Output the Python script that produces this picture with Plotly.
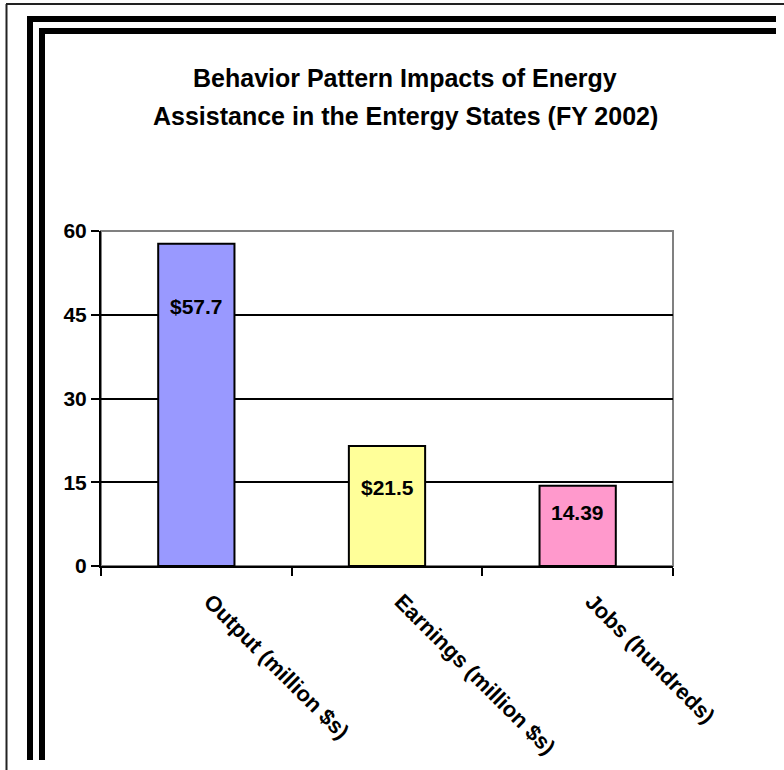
import plotly.graph_objects as go

categories = ["Output (million $s)", "Earnings (million $s)", "Jobs (hundreds)"]
values = [57.7, 21.5, 14.39]
value_labels = ["$57.7", "$21.5", "14.39"]
bar_colors = ["#9999FF", "#FFFF99", "#FF99CC"]
y_ticks = [0, 15, 30, 45, 60]
title_lines = ["Behavior Pattern Impacts of Energy", "Assistance in the Entergy States (FY 2002)"]

W, H = 784, 770
L, R, T, B = 101, 673, 231, 566
FONT = "Liberation Sans, Arial, sans-serif"

def px_x(x):
    return (x - L) / (R - L)

def px_y(y):
    return (B - y) / (B - T)

fig = go.Figure()
fig.add_trace(go.Bar(
    x=categories, y=values, width=0.4,
    marker=dict(color=bar_colors, line=dict(color="black", width=2)),
    hoverinfo="skip",
))

label_shift = [-63, -42, -27]
annotations = []
for c, v, t, s in zip(categories, values, value_labels, label_shift):
    annotations.append(dict(x=c, y=v, xref="x", yref="y", text=f"<b>{t}</b>", showarrow=False,
                            yshift=s, font=dict(family=FONT, size=21, color="black")))
for line, ypx in zip(title_lines, [78, 116]):
    annotations.append(dict(x=px_x(405), y=px_y(ypx), xref="paper", yref="paper",
                            xanchor="center", yanchor="middle",
                            text=f"<b>{line}</b>", showarrow=False,
                            font=dict(family=FONT, size=25, color="black")))

shapes = []
shapes.append(dict(type="rect", xref="paper", yref="paper", x0=0, x1=1, y0=0, y1=1,
                   line=dict(color="#808080", width=2), layer="below"))
shapes.append(dict(type="line", xref="paper", yref="paper", x0=px_x(6), x1=px_x(784), y0=px_y(4), y1=px_y(4),
                   line=dict(color="#222222", width=2)))
shapes.append(dict(type="line", xref="paper", yref="paper", x0=px_x(6.5), x1=px_x(6.5), y0=px_y(4), y1=px_y(770),
                   line=dict(color="#222222", width=2)))
for (x0, x1, y0, y1) in [(27, 33, 16, 760), (39, 45, 28, 760), (27, 776, 16, 22), (39, 776, 28, 34)]:
    shapes.append(dict(type="rect", xref="paper", yref="paper", x0=px_x(x0), x1=px_x(x1),
                       y0=px_y(y0), y1=px_y(y1), fillcolor="black", line=dict(width=0)))

fig.update_layout(
    width=W, height=H, autosize=False,
    margin=dict(l=L, r=W - R, t=T, b=H - B, pad=0, autoexpand=False),
    paper_bgcolor="white", plot_bgcolor="white",
    showlegend=False,
    annotations=annotations, shapes=shapes,
)
fig.update_yaxes(range=[0, 60], tickvals=y_ticks, ticktext=[f"<b>{v}</b>" for v in y_ticks],
                 showgrid=True, gridcolor="black", gridwidth=1.5, automargin=False,
                 showline=True, linecolor="black", linewidth=2,
                 ticks="outside", ticklen=8, tickwidth=2, tickcolor="black",
                 tickfont=dict(family=FONT, size=21, color="black"), zeroline=False, fixedrange=True)
fig.update_xaxes(tickvals=categories, ticktext=[f"<b>{c}</b>" for c in categories],
                 tickangle=45, tickson="boundaries", automargin=False,
                 ticklabelstandoff=12, ticklabelshift=14,
                 showline=True, linecolor="black", linewidth=2,
                 ticks="outside", ticklen=8, tickwidth=2, tickcolor="black",
                 tickfont=dict(family=FONT, size=22, color="black"), showgrid=False, fixedrange=True)

fig.write_html("out.html", config={"displayModeBar": False},
               post_script="document.body.style.margin='0';document.body.style.overflow='hidden';")
